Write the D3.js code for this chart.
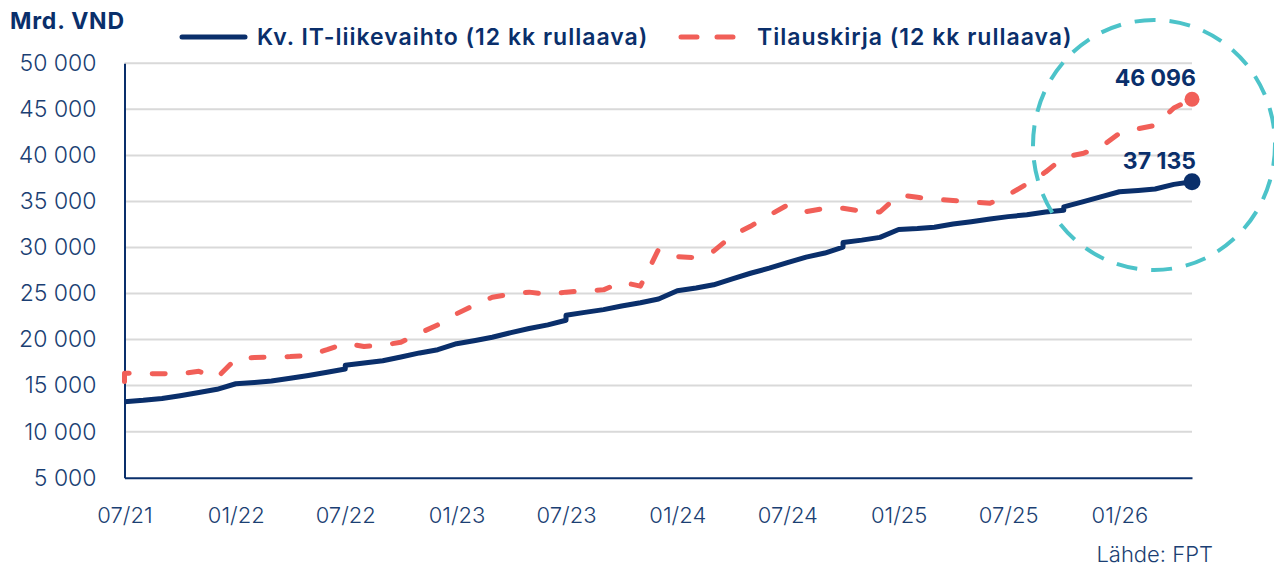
<!DOCTYPE html>
<html>
<head>
<meta charset="utf-8">
<script src="https://cdn.jsdelivr.net/npm/d3@7"></script>
<style>
  body { margin: 0; background: #fff; }
  svg { display: block; font-family: Inter, "Noto Sans", sans-serif; }
</style>
</head>
<body>
<svg id="viz"></svg>
<script>
// ----------------------------------------------------------------------------------------------------------------
// DATA

// month of each point (07/21 ... 05/26)
var months = [
  "2021-07", "2021-08", "2021-09", "2021-10", "2021-11", "2021-12",
  "2022-01", "2022-02", "2022-03", "2022-04", "2022-05", "2022-06",
  "2022-07", "2022-08", "2022-09", "2022-10", "2022-11", "2022-12",
  "2023-01", "2023-02", "2023-03", "2023-04", "2023-05", "2023-06",
  "2023-07", "2023-08", "2023-09", "2023-10", "2023-11", "2023-12",
  "2024-01", "2024-02", "2024-03", "2024-04", "2024-05", "2024-06",
  "2024-07", "2024-08", "2024-09", "2024-10", "2024-11", "2024-12",
  "2025-01", "2025-02", "2025-03", "2025-04", "2025-05", "2025-06",
  "2025-07", "2025-08", "2025-09", "2025-10", "2025-11", "2025-12",
  "2026-01", "2026-02", "2026-03", "2026-04", "2026-05"
];

// a pair = step inside the month (value before, value after)
var itRevenue = [
  13250, 13400, 13600, 13900, 14250, 14600,
  15200, 15350, 15500, 15800, 16100, 16450,
  [16800, 17200], 17450, 17700, 18100, 18550, 18900,
  19550, 19900, 20250, 20750, 21200, 21600,
  [22100, 22650], 22950, 23250, 23650, 24000, 24400,
  25300, 25600, 25950, 26600, 27200, 27750,
  28350, 28950, 29400, [30050, 30550], 30800, 31100,
  31950, 32050, 32200, 32550, 32800, 33100,
  33350, 33550, 33850, [34050, 34400], 34950, 35500,
  36050, 36200, 36350, 36850, 37135
];

var backlog = [
  [15450, 16350], 16300, 16280, 16300, 16550, 15850,
  17900, 18050, 18100, 18150, 18250, 18900,
  19600, 19250, 19400, 19700, 20700, 21600,
  22800, 23800, 24600, 24950, 25150, 24900,
  25150, 25300, 25400, 26250, 25800, 29800,
  29000, 28900, 29600, 31300, 32300, 33500,
  34600, 33900, 34250, 34250, 33950, 33850,
  35700, 35450, 35250, 35100, 34950, 34800,
  35700, 36900, 38200, 39800, 40200, 40900,
  42400, 42900, 43250, 45150, 46096
];

var yTicks = [5000, 10000, 15000, 20000, 25000, 30000, 35000, 40000, 45000, 50000];
var xTickMonths = ["2021-07", "2022-01", "2022-07", "2023-01", "2023-07", "2024-01", "2024-07", "2025-01", "2025-07", "2026-01"];
var xTickLabels = ["07/21", "01/22", "07/22", "01/23", "07/23", "01/24", "07/24", "01/25", "07/25", "01/26"];

var seriesNames = ["Kv. IT-liikevaihto (12 kk rullaava)", "Tilauskirja (12 kk rullaava)"];
var endLabels = ["37 135", "46 096"];


// ----------------------------------------------------------------------------------------------------------------
// INITIAL SETUP

var w = 1274;
var h = 567;
var navy = "#0a2f6b";
var red = "#f15f58";
var teal = "#4cc3c9";
var textBlue = "#1b3f73";

var viz = d3.select("#viz").attr("width", w).attr("height", h);
var parseMonth = d3.timeParse("%Y-%m");

var x = d3.scaleTime()
  .domain([parseMonth(months[0]), parseMonth(months[months.length - 1])])
  .range([124.5, 1192]);

var y = d3.scaleLinear()
  .domain([5000, 50000])
  .range([477.7, 63.3]);

function toPoints(values) {
  var pts = [];
  values.forEach(function(v, i) {
    var d = parseMonth(months[i]);
    if (Array.isArray(v)) {
      v.forEach(function(vv) { pts.push({date: d, value: vv}); });
    } else {
      pts.push({date: d, value: v});
    }
  });
  return pts;
}

var revPts = toPoints(itRevenue);
var backPts = toPoints(backlog);


// ----------------------------------------------------------------------------------------------------------------
// AXES + GRID

viz.append("g")
  .selectAll("line")
  .data(yTicks.slice(1))
  .enter()
  .append("line")
  .attr("x1", x.range()[0])
  .attr("x2", x.range()[1])
  .attr("y1", function(d) { return y(d); })
  .attr("y2", function(d) { return y(d); })
  .attr("stroke", "#d9d9d9")
  .attr("stroke-width", 2);

var yAxis = viz.append("g")
  .attr("transform", "translate(" + x.range()[0] + ",0)")
  .call(d3.axisLeft(y)
    .tickValues(yTicks)
    .tickSize(0)
    .tickPadding(28)
    .tickFormat(function(d) { return d3.format(",")(d).replace(",", " "); }));
yAxis.select(".domain").attr("stroke", navy).attr("stroke-width", 2);
yAxis.selectAll("text")
  .attr("fill", textBlue)
  .attr("font-size", 23)
  .attr("font-weight", 300)
  .attr("font-family", "Inter, sans-serif");

var xAxis = viz.append("g")
  .attr("transform", "translate(0," + y.range()[0] + ")")
  .call(d3.axisBottom(x)
    .tickValues(xTickMonths.map(parseMonth))
    .tickSize(0)
    .tickPadding(30)
    .tickFormat(function(d, i) { return xTickLabels[i]; }));
xAxis.select(".domain").attr("stroke", navy).attr("stroke-width", 2);
xAxis.selectAll("text")
  .attr("fill", textBlue)
  .attr("font-size", 22)
  .attr("font-weight", 300)
  .attr("font-family", "Inter, sans-serif");


// ----------------------------------------------------------------------------------------------------------------
// LINES

var line = d3.line()
  .x(function(d) { return x(d.date); })
  .y(function(d) { return y(d.value); });

viz.append("path")
  .datum(backPts)
  .attr("d", line)
  .attr("fill", "none")
  .attr("stroke", red)
  .attr("stroke-width", 5)
  .attr("stroke-linecap", "round")
  .attr("stroke-linejoin", "round")
  .attr("stroke-dasharray", "13,23");

viz.append("path")
  .datum(revPts)
  .attr("d", line)
  .attr("fill", "none")
  .attr("stroke", navy)
  .attr("stroke-width", 5)
  .attr("stroke-linejoin", "round");

// end points + labels
var ends = [
  {p: revPts[revPts.length - 1], color: navy, r: 8.5, label: endLabels[0]},
  {p: backPts[backPts.length - 1], color: red, r: 7.5, label: endLabels[1]}
];

viz.selectAll(".end-dot")
  .data(ends)
  .enter()
  .append("circle")
  .attr("class", "end-dot")
  .attr("cx", function(d) { return x(d.p.date); })
  .attr("cy", function(d) { return y(d.p.value); })
  .attr("r", function(d) { return d.r; })
  .attr("fill", function(d) { return d.color; });

viz.selectAll(".end-label")
  .data(ends)
  .enter()
  .append("text")
  .attr("class", "end-label")
  .attr("x", function(d) { return x(d.p.date) + 4; })
  .attr("y", function(d) { return y(d.p.value) - 13; })
  .attr("text-anchor", "end")
  .attr("fill", navy)
  .attr("font-size", 23)
  .attr("font-weight", 700)
  .text(function(d) { return d.label; });

// highlight ring
viz.append("ellipse")
  .attr("cx", 1154)
  .attr("cy", 145)
  .attr("rx", 121)
  .attr("ry", 125)
  .attr("fill", "none")
  .attr("stroke", teal)
  .attr("stroke-width", 4)
  .attr("stroke-dasharray", "21,14");


// ----------------------------------------------------------------------------------------------------------------
// TITLES + LEGEND

viz.append("text")
  .attr("x", 10)
  .attr("y", 29)
  .attr("fill", navy)
  .attr("font-size", 23)
  .attr("font-weight", 700)
  .attr("letter-spacing", 0.8)
  .text("Mrd. VND");

var legend = [
  {x1: 182, x2: 245, tx: 257, name: seriesNames[0], color: navy, dash: null},
  {x1: 681, x2: 745, tx: 757, name: seriesNames[1], color: red, dash: "16,20"}
];

var lg = viz.selectAll(".legend")
  .data(legend)
  .enter()
  .append("g")
  .attr("class", "legend");

lg.append("line")
  .attr("x1", function(d) { return d.x1; })
  .attr("x2", function(d) { return d.x2; })
  .attr("y1", 37)
  .attr("y2", 37)
  .attr("stroke", function(d) { return d.color; })
  .attr("stroke-width", 5)
  .attr("stroke-linecap", "round")
  .attr("stroke-dasharray", function(d) { return d.dash; });

lg.append("text")
  .attr("x", function(d) { return d.tx; })
  .attr("y", 45)
  .attr("fill", navy)
  .attr("font-size", 23)
  .attr("font-weight", 600)
  .attr("letter-spacing", 1)
  .text(function(d) { return d.name; });

viz.append("text")
  .attr("x", 1213)
  .attr("y", 562)
  .attr("text-anchor", "end")
  .attr("fill", textBlue)
  .attr("font-size", 22)
  .attr("font-weight", 300)
  .text("Lähde: FPT");
</script>
</body>
</html>
